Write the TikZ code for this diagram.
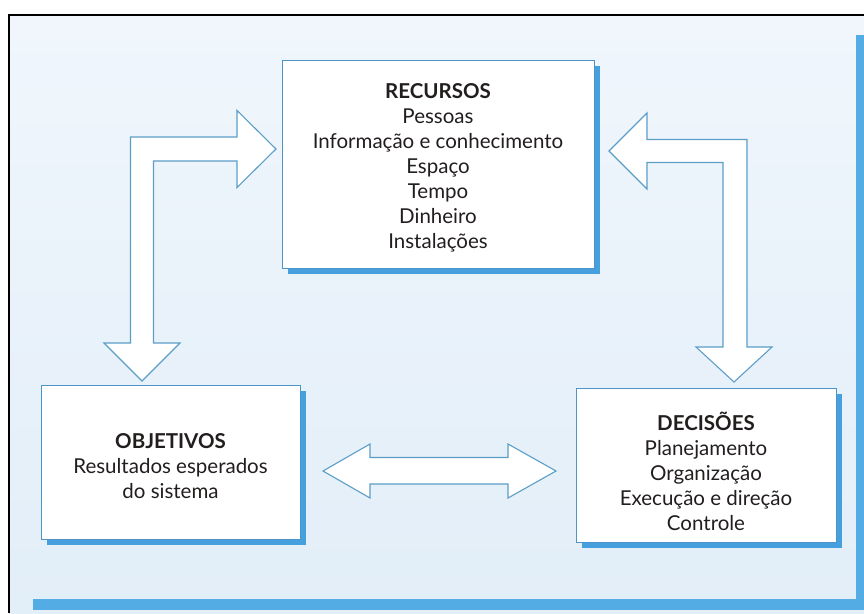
\documentclass[tikz,border=0pt]{standalone}
\usepackage{fontspec}
\setmainfont{Lato}
\usetikzlibrary{shadows}
\definecolor{pagelight}{RGB}{240,246,252}
\definecolor{pageblue}{RGB}{226,238,248}
\definecolor{barblue}{RGB}{84,172,228}
\definecolor{shadowblue}{RGB}{70,160,222}
\definecolor{lineblue}{RGB}{78,148,200}
\definecolor{arrowblue}{RGB}{92,158,200}
\definecolor{txt}{RGB}{35,30,30}
\begin{document}
\begin{tikzpicture}[x=1pt,y=-1pt,
  box/.style={draw=lineblue, line width=1pt, fill=white, inner sep=0pt,
    drop shadow={shadow xshift=6pt, shadow yshift=-6pt, fill=shadowblue, opacity=1}},
  boxtext/.style={align=center, inner sep=0pt, text=txt,
    font=\fontsize{20.5}{25}\selectfont},
  blockarrow/.style={draw=arrowblue, line width=1.1pt, fill=white, line join=miter}]
\useasboundingbox (0,0) rectangle (864,613);
\fill[white] (0,0) rectangle (864,613);
\shade[top color=pagelight, bottom color=pageblue] (9,15) rectangle (864,613);
\fill[barblue] (856,35) rectangle (864,610);
\fill[barblue] (33,599) rectangle (864,610);
\draw[black, line width=2.6pt] (9,613) -- (9,15) -- (864,15);

% boxes
\node[box, minimum width=312pt, minimum height=208pt] (rec) at (438,164) {};
\node[box, minimum width=259pt, minimum height=154pt] (obj) at (170.5,462) {};
\node[box, minimum width=260pt, minimum height=154pt] (dec) at (706,465) {};

\node[boxtext] (rect) at ([yshift=-4pt]rec.center)
  {\textbf{RECURSOS}\\Pessoas\\Informação e conhecimento\\Espaço\\Tempo\\Dinheiro\\Instalações};
\node[boxtext] (objt) at ([yshift=-4pt]obj.center)
  {\textbf{OBJETIVOS}\\Resultados esperados\\do sistema};
\node[boxtext] (dect) at ([yshift=-6pt]dec.center)
  {\textbf{DECISÕES}\\Planejamento\\Organização\\Execução e direção\\Controle};

% block arrows
\draw[blockarrow] (130.5,137) -- (237,137) -- (237,110.5) -- (276,149) -- (237,187.5)
  -- (237,161) -- (153.5,161) -- (153.5,343) -- (180,343) -- (142,381) -- (104,343)
  -- (130.5,343) -- cycle;
\draw[blockarrow] (747,139.5) -- (647,139.5) -- (647,113) -- (609,151) -- (647,189)
  -- (647,162.5) -- (723,162.5) -- (723,347) -- (696,347) -- (734,382) -- (772,347)
  -- (747,347) -- cycle;
\draw[blockarrow] (323,471) -- (370,444) -- (370,457.5) -- (508,457.5) -- (508,444)
  -- (556,471) -- (508,498) -- (508,484) -- (370,484) -- (370,498) -- cycle;
\end{tikzpicture}
\end{document}
